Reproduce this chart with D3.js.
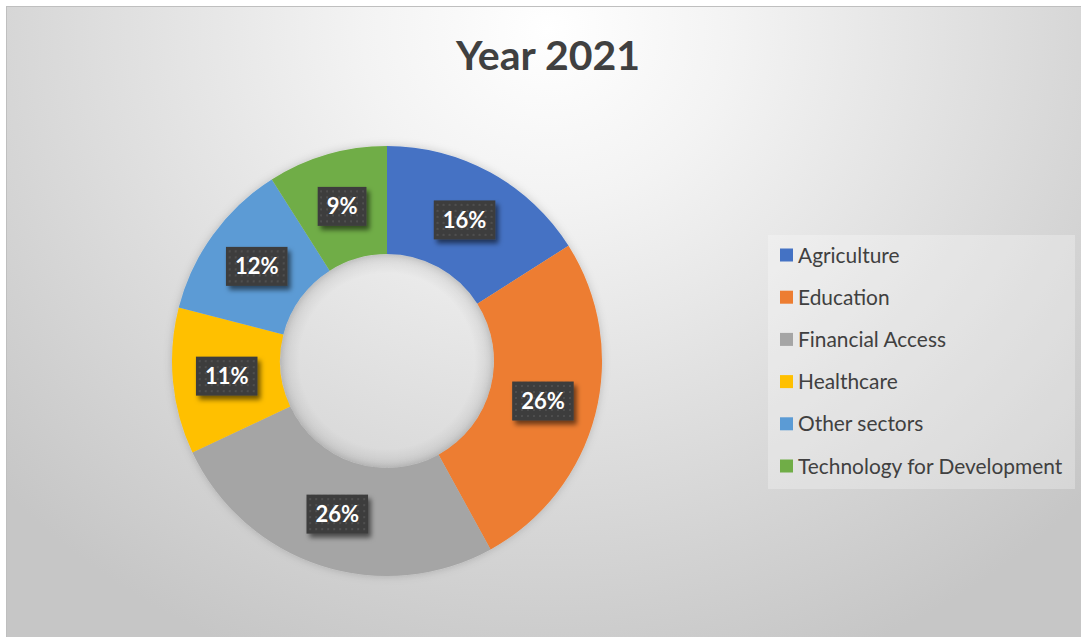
<!DOCTYPE html>
<html>
<head>
<meta charset="utf-8">
<script src="https://cdn.jsdelivr.net/npm/d3@7"></script>
<style>
  html, body { margin: 0; padding: 0; background: #ffffff; }
  svg { display: block; }
</style>
</head>
<body>
<svg id="chart" width="1081" height="637"></svg>
<script>
// Sector shares for 2021
const categories = ["Agriculture", "Education", "Financial Access", "Healthcare", "Other sectors", "Technology for Development"];
const shares = [16, 26, 26, 11, 12, 9];
const colors = ["#4472C4", "#ED7D31", "#A5A5A5", "#FFC000", "#5B9BD5", "#70AD47"];
const title = "Year 2021";

const W = 1081, H = 637;
const svg = d3.select("#chart");
const defs = svg.append("defs");

// Background gradient for the chart area
const bg = defs.append("radialGradient")
  .attr("id", "bgGrad")
  .attr("gradientUnits", "userSpaceOnUse")
  .attr("cx", 548).attr("cy", 30).attr("r", 740)
  .attr("gradientTransform", "translate(548,30) scale(1,0.92) translate(-548,-30)");
bg.append("stop").attr("offset", 0).attr("stop-color", "#ffffff");
bg.append("stop").attr("offset", 0.25).attr("stop-color", "#f3f3f3");
bg.append("stop").attr("offset", 0.7).attr("stop-color", "#d8d8d8");
bg.append("stop").attr("offset", 1).attr("stop-color", "#c6c6c6");

// Inner rim shading for the hole
const hole = defs.append("radialGradient").attr("id", "holeGrad");
hole.append("stop").attr("offset", 0.82).attr("stop-color", "#000").attr("stop-opacity", 0);
hole.append("stop").attr("offset", 1).attr("stop-color", "#000").attr("stop-opacity", 0.09);

// Dotted texture for the value labels
const pat = defs.append("pattern")
  .attr("id", "dots").attr("patternUnits", "userSpaceOnUse")
  .attr("width", 6).attr("height", 6);
pat.append("rect").attr("width", 6).attr("height", 6).attr("fill", "#3d3d3d");
pat.append("rect").attr("x", 2).attr("y", 2).attr("width", 2).attr("height", 2).attr("fill", "#4f4f4f");

// Drop shadow for label boxes
const sh = defs.append("filter").attr("id", "shadow")
  .attr("x", "-30%").attr("y", "-30%").attr("width", "170%").attr("height", "170%");
sh.append("feDropShadow").attr("dx", 3).attr("dy", 4).attr("stdDeviation", 2.5)
  .attr("flood-color", "#000").attr("flood-opacity", 0.55);

// Soft shadow for the ring
const rs = defs.append("filter").attr("id", "ringShadow")
  .attr("x", "-20%").attr("y", "-20%").attr("width", "140%").attr("height", "140%");
rs.append("feDropShadow").attr("dx", 0).attr("dy", 0).attr("stdDeviation", 4)
  .attr("flood-color", "#000").attr("flood-opacity", 0.18);

// Chart area
svg.append("rect")
  .attr("x", 6.5).attr("y", 6.5).attr("width", W).attr("height", H)
  .attr("fill", "url(#bgGrad)")
  .attr("stroke", "#bfbfbf").attr("stroke-width", 1);

// Title
svg.append("text")
  .attr("x", 548).attr("y", 70)
  .attr("text-anchor", "middle")
  .attr("font-family", "Lato, 'Open Sans', sans-serif")
  .attr("font-weight", 700)
  .attr("font-size", 41)
  .attr("fill", "#404040")
  .text(title);

// Donut
const cx = 387, cy = 361, rOuter = 215, rInner = 107;
const data = categories.map((c, i) => ({ name: c, value: shares[i], color: colors[i] }));
const pie = d3.pie().value(d => d.value).sort(null);
const arcs = pie(data);
const arc = d3.arc().innerRadius(rInner).outerRadius(rOuter);

const g = svg.append("g").attr("transform", `translate(${cx},${cy})`);
g.append("g").attr("filter", "url(#ringShadow)")
  .selectAll("path").data(arcs).join("path")
  .attr("d", arc)
  .attr("fill", d => d.data.color);

g.append("circle").attr("r", rInner).attr("fill", "url(#holeGrad)");

// Value labels
const total = d3.sum(shares);
const fmt = v => Math.round(v / total * 100) + "%";
const lbl = g.selectAll("g.lbl").data(arcs).join("g")
  .attr("class", "lbl")
  .attr("transform", d => `translate(${arc.centroid(d)})`);

lbl.each(function(d) {
  const s = d3.select(this);
  const t = s.append("text")
    .attr("text-anchor", "middle")
    .attr("dy", "0.36em")
    .attr("font-family", "Lato, 'Open Sans', sans-serif")
    .attr("font-weight", 700)
    .attr("font-size", 22)
    .attr("fill", "#ffffff")
    .text(fmt(d.data.value));
  const w = t.node().getComputedTextLength() + 18;
  const h = 39;
  s.insert("rect", "text")
    .attr("x", -w / 2).attr("y", -h / 2)
    .attr("width", w).attr("height", h)
    .attr("fill", "url(#dots)")
    .attr("filter", "url(#shadow)");
});

// Legend
const lg = svg.append("g").attr("transform", "translate(768,235)");
lg.append("rect").attr("width", 307).attr("height", 254)
  .attr("fill", "#ffffff").attr("fill-opacity", 0.28);
const rowY = d3.scalePoint().domain(categories).range([20, 231]);
const items = lg.selectAll("g.item").data(data).join("g")
  .attr("class", "item")
  .attr("transform", d => `translate(12,${rowY(d.name)})`);
items.append("rect")
  .attr("x", 0).attr("y", -6.5).attr("width", 13).attr("height", 13)
  .attr("fill", d => d.color);
items.append("text")
  .attr("x", 18).attr("y", 0).attr("dy", "0.36em")
  .attr("font-family", "Lato, 'Open Sans', sans-serif")
  .attr("font-size", 20.9)
  .attr("fill", "#404040")
  .text(d => d.name);
</script>
</body>
</html>
